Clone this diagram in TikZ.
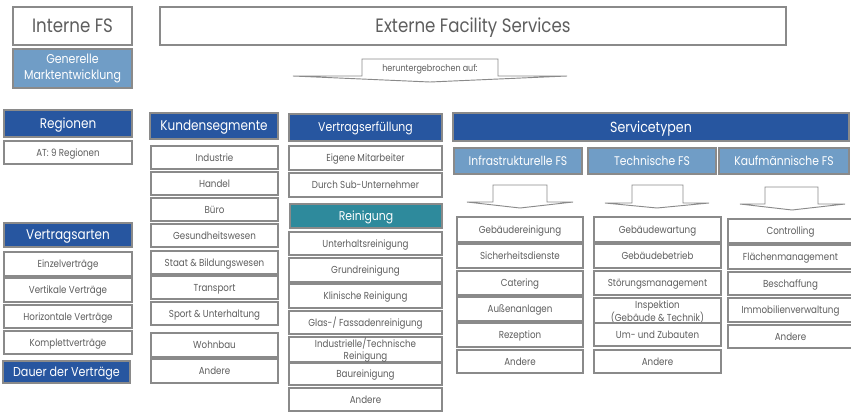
\documentclass[tikz,border=0pt]{standalone}
\usepackage{fontspec}
\setmainfont{Poppins}[FakeStretch=0.86]
\definecolor{dblue}{HTML}{2756A0}
\definecolor{lblue}{HTML}{709DC6}
\definecolor{tealc}{HTML}{2E8A9C}
\definecolor{bgray}{HTML}{8A8A8A}
\definecolor{tgray}{HTML}{5E5E5E}
\tikzset{
 base/.style={draw=bgray, line width=0.9pt, inner sep=0pt},
 one/.style={text height=#1, text depth=0pt},
 item/.style={base, one=5.3pt, fill=white, text=tgray, font=\fontsize{7.6}{9}\selectfont},
 big/.style={base, one=10.2pt, fill=white, text=tgray, font=\fontsize{14.5}{16}\selectfont},
 hdr/.style={base, one=7.35pt, fill=dblue, text=white, font=\fontsize{10.5}{12}\selectfont},
 hdrs/.style={base, one=6.65pt, fill=dblue, text=white, font=\fontsize{9.5}{11}\selectfont},
 hdrd/.style={base, one=6.8pt, fill=dblue, text=white, font=\fontsize{9.7}{11}\selectfont},
 hdrl/.style={base, one=7.7pt, fill=dblue, text=white, font=\fontsize{11}{12}\selectfont},
 sub/.style={base, one=6.6pt, fill=lblue, text=white, font=\fontsize{9.4}{10}\selectfont},
 gen/.style={base, align=center, fill=lblue, text=white, font=\fontsize{9.6}{12.5}\selectfont},
 tealhdr/.style={base, one=6.65pt, fill=tealc, text=white, font=\fontsize{9.5}{11}\selectfont},
 arr/.style={draw=bgray, line width=0.7pt, fill=white},
 lbl/.style={inner sep=0pt, one=4.9pt, text=tgray, font=\fontsize{7}{8}\selectfont},
}
% #1 style, #2 name, #3 x1, #4 y1, #5 x2, #6 y2, #7 text
\newcommand\mybox[7]{%
  \pgfmathsetmacro\myCX{(#3+#5)/2}\pgfmathsetmacro\myCY{(#4+#6)/2}%
  \pgfmathsetmacro\myBW{(#5-#3)*0.75}\pgfmathsetmacro\myBH{(#6-#4)*0.75}%
  \node[#1, minimum width=\myBW pt, minimum height=\myBH pt] (#2) at (\myCX,\myCY) {#7};}
% xl, xbl, xbr, xr, ytop, yline, ytip, xtip
\newcommand\myarrow[8]{%
  \draw[arr] (#1,#6) -- (#2,#6) -- (#2,#5) -- (#3,#5) -- (#3,#6) -- (#4,#6) -- (#8,#7) -- cycle;}
\newcommand\twoline[2]{\smash{\begin{tabular}[c]{@{}c@{}}#1\\[0pt]#2\end{tabular}}}
\begin{document}
\begin{tikzpicture}[x=0.75pt,y=-0.75pt]
\useasboundingbox (0,0) rectangle (851,412);
% top
\mybox{big}{int}{13}{7}{132}{45}{Interne FS}
\mybox{gen}{gen}{13}{49}{132}{88}{Generelle\\Marktentwicklung}
\mybox{big}{ext}{160}{7}{786}{45}{Externe Facility Services}
\myarrow{293}{362}{498}{567}{59}{76}{82}{430}
\node[lbl] (hb) at (430,68) {heruntergebrochen auf:};
% left column
\mybox{hdr}{reg}{4}{110}{132}{137}{Regionen}
\mybox{item}{at}{4}{141}{132}{164}{AT: 9 Regionen}
\mybox{hdr}{va}{4}{223}{132}{247}{Vertragsarten}
\mybox{item}{va1}{4}{252}{132}{276}{Einzelverträge}
\mybox{item}{va2}{4}{278}{132}{302}{Vertikale Verträge}
\mybox{item}{va3}{4}{305}{132}{328}{Horizontale Verträge}
\mybox{item}{va4}{4}{331}{132}{354}{Komplettverträge}
\mybox{hdrd}{dauer}{3}{361}{130}{383}{Dauer der Verträge}
% Kundensegmente
\mybox{hdr}{ks}{150}{113}{278}{139}{Kundensegmente}
\mybox{item}{ks1}{151}{146}{278}{169}{Industrie}
\mybox{item}{ks2}{151}{172}{278}{195}{Handel}
\mybox{item}{ks3}{151}{198}{278}{221}{Büro}
\mybox{item}{ks4}{151}{224}{278}{247}{Gesundheitswesen}
\mybox{item}{ks5}{151}{251}{278}{274}{Staat \& Bildungswesen}
\mybox{item}{ks6}{151}{276}{278}{299}{Transport}
\mybox{item}{ks7}{151}{302}{278}{325}{Sport \& Unterhaltung}
\mybox{item}{ks8}{151}{333}{278}{357}{Wohnbau}
\mybox{item}{ks9}{151}{359}{278}{383}{Andere}
% Vertragserfuellung
\mybox{hdrs}{ve}{289}{114}{442}{141}{Vertragserfüllung}
\mybox{item}{ve1}{289}{146}{442}{170}{Eigene Mitarbeiter}
\mybox{item}{ve2}{289}{173}{442}{197}{Durch Sub-Unternehmer}
\mybox{tealhdr}{rein}{290}{204}{442}{228}{Reinigung}
\mybox{item}{re1}{289}{232}{442}{255}{Unterhaltsreinigung}
\mybox{item}{re2}{289}{258}{442}{282}{Grundreinigung}
\mybox{item}{re3}{289}{284}{442}{308}{Klinische Reinigung}
\mybox{item}{re4}{289}{311}{442}{334}{Glas-/ Fassadenreinigung}
\mybox{item}{re5}{289}{337}{442}{362}{\twoline{Industrielle/Technische}{Reinigung}}
\mybox{item}{re6}{289}{363}{442}{385}{Baureinigung}
\mybox{item}{re7}{289}{388}{442}{411}{Andere}
% Servicetypen
\mybox{hdrl}{st}{453}{113}{849}{141}{Servicetypen}
\mybox{sub}{inf}{454}{148}{582}{174}{Infrastrukturelle FS}
\mybox{sub}{tec}{588}{148}{716}{174}{Technische FS}
\mybox{sub}{kfm}{719}{148}{849}{174}{Kaufmännische FS}
\myarrow{467}{493}{547}{573}{185}{202}{208}{520}
\myarrow{605}{632}{683}{709}{185}{203}{208}{657}
\myarrow{740}{765}{818}{845}{187}{204}{210}{792}
% Infrastrukturelle FS
\mybox{item}{in1}{457}{217}{583}{242}{Gebäudereinigung}
\mybox{item}{in2}{457}{244}{583}{268}{Sicherheitsdienste}
\mybox{item}{in3}{457}{271}{583}{295}{Catering}
\mybox{item}{in4}{457}{297}{583}{321}{Außenanlagen}
\mybox{item}{in5}{457}{323}{583}{347}{Rezeption}
\mybox{item}{in6}{457}{350}{583}{373}{Andere}
% Technische FS
\mybox{item}{te1}{594}{217}{721}{242}{Gebäudewartung}
\mybox{item}{te2}{594}{244}{721}{268}{Gebäudebetrieb}
\mybox{item}{te3}{594}{271}{721}{295}{Störungsmanagement}
\mybox{item}{te4}{594}{298}{721}{325}{\twoline{Inspektion}{(Gebäude \& Technik)}}
\mybox{item}{te5}{594}{323}{721}{346}{Um- und Zubauten}
\mybox{item}{te6}{594}{350}{721}{373}{Andere}
% Kaufmaennische FS
\mybox{item}{kf1}{728}{219}{853}{243}{Controlling}
\mybox{item}{kf2}{728}{245}{853}{269}{Flächenmanagement}
\mybox{item}{kf3}{728}{272}{853}{295}{Beschaffung}
\mybox{item}{kf4}{728}{298}{853}{322}{Immobilienverwaltung}
\mybox{item}{kf5}{728}{325}{853}{348}{Andere}
\end{tikzpicture}
\end{document}
